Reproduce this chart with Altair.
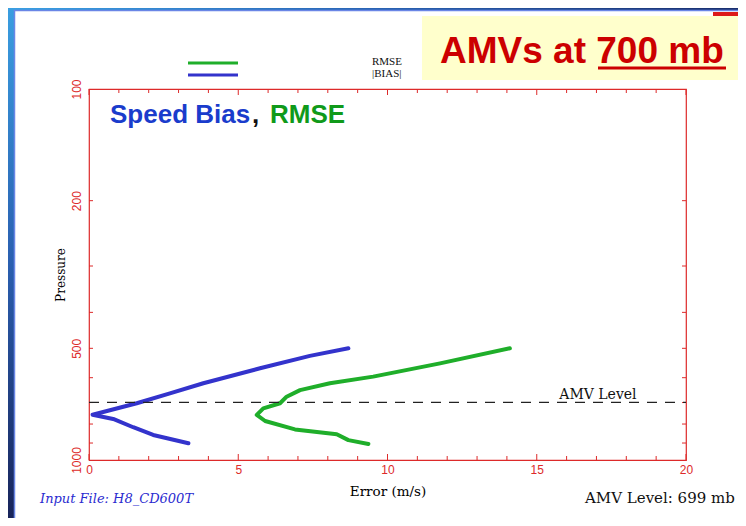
import altair as alt
import pandas as pd

# ---- data ----
rmse_err = [14.10, 11.76, 9.52, 8.07, 7.07, 6.62, 6.40, 5.84, 5.62, 5.90, 6.90, 8.30, 8.69, 9.36]
rmse_pres = [500, 549, 596, 621, 648, 675, 703, 726, 756, 785, 827, 852, 884, 905]
bias_err = [8.69, 7.40, 5.73, 3.83, 2.71, 1.60, 0.12, 0.81, 1.48, 2.15, 3.33]
bias_pres = [500, 524, 566, 621, 661, 703, 755, 775, 816, 856, 901]
series_names = ["RMSE", "|BIAS|"]
series_colors = ["#1fae2a", "#3333cc"]
amv_level = 699
x_label_values = [0, 5, 10, 15, 20]
y_label_values = [100, 200, 500, 1000]
x_minor_ticks = [v for v in range(0, 21) if v % 5 != 0]
x_major_ticks = [0, 5, 10, 15, 20]
y_ticks = [200, 300, 400, 500, 600, 700, 800, 900]

W, H = 597, 371
RED = "#dd2a2a"

rows = []
for i, (e, p) in enumerate(zip(rmse_err, rmse_pres)):
    rows.append({"series": "RMSE", "err": e, "pres": p, "idx": i})
for i, (e, p) in enumerate(zip(bias_err, bias_pres)):
    rows.append({"series": "|BIAS|", "err": e, "pres": p, "idx": i})
df = pd.DataFrame(rows)

xscale = alt.Scale(domain=[0, 20], nice=False, zero=False)
yscale = alt.Scale(type="log", domain=[100, 1000], reverse=True, nice=False)
cscale = alt.Scale(domain=series_names, range=series_colors)

xaxis = alt.Axis(values=x_label_values, format="d", domain=False, ticks=False, tickSize=0,
                 grid=False, labelColor=RED, labelFont="Liberation Sans", labelFontSize=12,
                 labelPadding=4, labelFlush=False, labelOverlap=False,
                 title="Error (m/s)", titleFont="DejaVu Serif", titleFontSize=13.5,
                 titleFontWeight="normal", titleColor="black", titlePadding=9)
yaxis = alt.Axis(values=y_label_values, format="d", domain=False, ticks=False, tickSize=0,
                 grid=False, labelAngle=270, labelAlign="center", labelBaseline="bottom",
                 labelPadding=6, labelColor=RED, labelFont="Liberation Sans", labelFontSize=12,
                 labelFlush=False, labelOverlap=False,
                 title="Pressure", titleFont="DejaVu Serif", titleFontSize=12,
                 titleFontWeight="normal", titleColor="black", titlePadding=3)


def X(field):
    return alt.X(field, scale=xscale, axis=xaxis, title="Error (m/s)")


def Y(field):
    return alt.Y(field, scale=yscale, axis=yaxis, title="Pressure")


one = pd.DataFrame({"a": [0]})

lines = alt.Chart(df).mark_line(strokeWidth=4, strokeCap="round", strokeJoin="round").encode(
    x=X("err:Q"),
    y=Y("pres:Q"),
    color=alt.Color("series:N", scale=cscale, legend=None),
    order="idx:Q",
    detail="series:N",
)

# tick marks (inward, on all four sides)
xmin_df = pd.DataFrame({"t": x_minor_ticks})
xmaj_df = pd.DataFrame({"t": x_major_ticks})
yt_df = pd.DataFrame({"t": y_ticks})
tick_layers = [
    alt.Chart(xmin_df).mark_rule(color=RED, strokeWidth=1).encode(x=X("t:Q"), y=alt.value(H), y2=alt.value(H - 4)),
    alt.Chart(xmin_df).mark_rule(color=RED, strokeWidth=1).encode(x=X("t:Q"), y=alt.value(0), y2=alt.value(4)),
    alt.Chart(xmaj_df).mark_rule(color=RED, strokeWidth=1).encode(x=X("t:Q"), y=alt.value(H), y2=alt.value(H - 6)),
    alt.Chart(xmaj_df).mark_rule(color=RED, strokeWidth=1).encode(x=X("t:Q"), y=alt.value(0), y2=alt.value(6)),
    alt.Chart(yt_df).mark_rule(color=RED, strokeWidth=1).encode(y=Y("t:Q"), x=alt.value(0), x2=alt.value(4)),
    alt.Chart(yt_df).mark_rule(color=RED, strokeWidth=1).encode(y=Y("t:Q"), x=alt.value(W - 4), x2=alt.value(W)),
]

amv_df = pd.DataFrame({"p": [amv_level], "x0": [0], "x1": [20], "xt": [17.05], "label": ["AMV Level"]})
dash = alt.Chart(amv_df).mark_rule(color="#222222", strokeWidth=1.3, strokeDash=[10, 8]).encode(
    y=Y("p:Q"), x=X("x0:Q"), x2="x1:Q")
amv_text = alt.Chart(amv_df).mark_text(font="DejaVu Serif", fontSize=14, color="#111111",
                                       align="center", baseline="alphabetic", dy=-3).encode(
    y=Y("p:Q"), x=X("xt:Q"), text="label:N")

# decorations (slide frame, title box, annotations, legend)
left_strip = alt.Chart(one).mark_rect(
    fill=alt.LinearGradient(gradient="linear", x1=0, y1=0, x2=0, y2=1,
                            stops=[alt.GradientStop(color="#3a9ee0", offset=0),
                                   alt.GradientStop(color="#2a5fb0", offset=0.5),
                                   alt.GradientStop(color="#18245a", offset=1)])
).encode(x=alt.value(-81), x2=alt.value(-75), y=alt.value(-81), y2=alt.value(H + 58))
left_edge = alt.Chart(one).mark_rule(color="#6a86e6", strokeWidth=1.5).encode(
    x=alt.value(-74.5), y=alt.value(-79), y2=alt.value(H + 58))
top_strip = alt.Chart(one).mark_rect(
    fill=alt.LinearGradient(gradient="linear", x1=0, y1=0, x2=1, y2=0,
                            stops=[alt.GradientStop(color="#3aa0e2", offset=0),
                                   alt.GradientStop(color="#2a64b4", offset=0.5),
                                   alt.GradientStop(color="#1a2f6e", offset=1)])
).encode(x=alt.value(-81), x2=alt.value(W + 52), y=alt.value(-81), y2=alt.value(-79))
top_edge = alt.Chart(one).mark_rule(color="#6a86e6", strokeWidth=1.5).encode(
    x=alt.value(-75), x2=alt.value(W + 52), y=alt.value(-78.5))
red_bar = alt.Chart(one).mark_rect(color="#dd1a1a").encode(
    x=alt.value(624), x2=alt.value(W + 52), y=alt.value(-77), y2=alt.value(-73))
yellow_box = alt.Chart(one).mark_rect(color="#ffffcc").encode(
    x=alt.value(333), x2=alt.value(W + 52), y=alt.value(-73), y2=alt.value(-9))
title_text = alt.Chart(one).mark_text(font="Liberation Sans", fontSize=37, fontWeight="bold",
                                      color="#cc0000", align="left", baseline="alphabetic").encode(
    x=alt.value(351), y=alt.value(-26), text=alt.value("AMVs at 700 mb"))
title_ul = alt.Chart(one).mark_rule(color="#cc0000", strokeWidth=3).encode(
    x=alt.value(509), x2=alt.value(637), y=alt.value(-21))

sb1 = alt.Chart(one).mark_text(font="Liberation Sans", fontSize=26, fontWeight="bold",
                               color="#1a3ccc", align="left", baseline="alphabetic").encode(
    x=alt.value(21), y=alt.value(34), text=alt.value("Speed Bias"))
sb2 = alt.Chart(one).mark_text(font="Liberation Sans", fontSize=26, fontWeight="bold",
                               color="#111111", align="left", baseline="alphabetic").encode(
    x=alt.value(163), y=alt.value(34), text=alt.value(","))
sb3 = alt.Chart(one).mark_text(font="Liberation Sans", fontSize=26, fontWeight="bold",
                               color="#109a1a", align="left", baseline="alphabetic").encode(
    x=alt.value(181), y=alt.value(34), text=alt.value("RMSE"))

# legend (two rows: RMSE green, |BIAS| blue)
leg_layers = []
for name, color, ly in zip(series_names, series_colors, [-26, -14]):
    leg_df = pd.DataFrame({"series": [name]})
    leg_layers.append(alt.Chart(leg_df).mark_rule(strokeWidth=3, color=color).encode(
        x=alt.value(99), x2=alt.value(149), y=alt.value(ly)))
    leg_layers.append(alt.Chart(leg_df).mark_text(font="Liberation Serif", fontSize=11, color="#111111",
                                                  align="left", baseline="alphabetic").encode(
        x=alt.value(283), y=alt.value(ly + 2), text="series:N"))

input_text = alt.Chart(one).mark_text(font="DejaVu Serif", fontSize=13, fontStyle="italic",
                                      color="#2b2bd0", align="left", baseline="alphabetic").encode(
    x=alt.value(-49), y=alt.value(414), text=alt.value("Input File: H8_CD600T"))
level_text = alt.Chart(one).mark_text(font="DejaVu Serif", fontSize=15, color="#111111",
                                      align="left", baseline="alphabetic").encode(
    x=alt.value(496), y=alt.value(414), text=alt.value("AMV Level: 699 mb"))

chart = alt.layer(
    left_strip, left_edge, top_strip, top_edge, red_bar, yellow_box, title_text, title_ul,
    lines, *tick_layers, dash, amv_text, sb1, sb2, sb3, *leg_layers, input_text, level_text,
).properties(
    width=W, height=H, autosize="none",
    padding={"left": 81, "top": 81, "right": 52, "bottom": 58},
    background="white",
).configure_view(stroke=RED, strokeWidth=1.2)

chart.save("out.html", embed_options={"renderer": "svg", "actions": False})
